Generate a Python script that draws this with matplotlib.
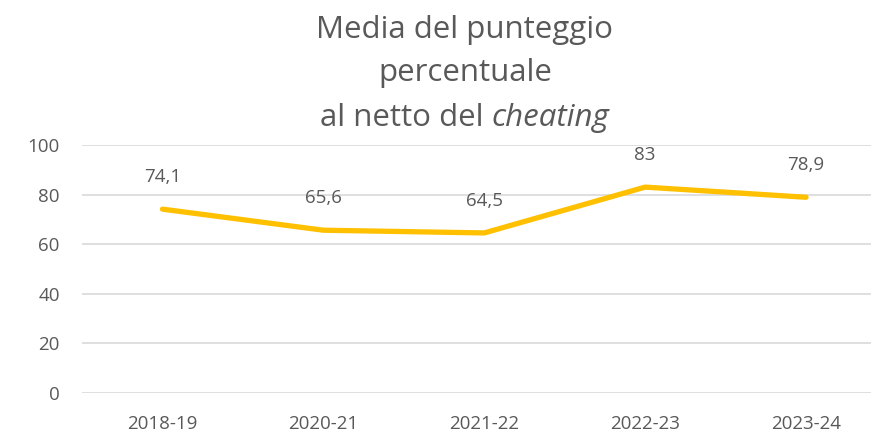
import matplotlib
matplotlib.use("Agg")
import matplotlib.pyplot as plt

categories = ["2018-19", "2020-21", "2021-22", "2022-23", "2023-24"]
values = [74.1, 65.6, 64.5, 83, 78.9]
labels = ["74,1", "65,6", "64,5", "83", "78,9"]
yticks = [0, 20, 40, 60, 80, 100]

W, H = 871, 433
fig = plt.figure(figsize=(W / 100, H / 100), dpi=100)
font = "Open Sans"
txt = "#595959"

ax = fig.add_axes([82 / W, (H - 392.7) / H, (886.5 - 82) / W, (392.7 - 145) / H])
x = list(range(len(categories)))
ax.plot(x, values, color="#FFC000", lw=3.8, solid_capstyle="round", zorder=3)
ax.set_xlim(-0.5, len(categories) - 0.5)
ax.set_ylim(0, 100)
ax.set_yticks(yticks)
ax.set_yticklabels([str(v) for v in yticks], fontfamily=font, fontsize=13.5, color=txt)
ax.set_xticks(x)
ax.set_xticklabels(categories, fontfamily=font, fontsize=13.5, color=txt)
ax.tick_params(axis="both", length=0)
ax.tick_params(axis="y", pad=16)
ax.tick_params(axis="x", pad=16)
ax.grid(axis="y", color="#D9D9D9", lw=1.2)
ax.set_axisbelow(True)
for s in ax.spines.values():
    s.set_visible(False)

for xi, v, lab in zip(x, values, labels):
    ax.annotate(lab, (xi, v), xytext=(0, 23), textcoords="offset points",
                ha="center", va="center", fontfamily=font, fontsize=13.5, color=txt)

cx = 465 / W
ts = 22.5
fig.text(cx, 1 - 30 / H, "Media del punteggio", ha="center", va="center",
         fontfamily=font, fontsize=ts, color=txt)
fig.text(cx, 1 - 73 / H, "percentuale", ha="center", va="center",
         fontfamily=font, fontsize=ts, color=txt)
r = fig.canvas.get_renderer()
t1 = fig.text(0, 1 - 118 / H, "al netto del ", ha="left", va="center",
              fontfamily=font, fontsize=ts, color=txt)
t2 = fig.text(0, 1 - 118 / H, "cheating", ha="left", va="center",
              fontfamily=font, fontsize=ts, color=txt, style="italic")
w1 = t1.get_window_extent(r).width
w2 = t2.get_window_extent(r).width
start = 465 - (w1 + w2) / 2
t1.set_x(start / W)
t2.set_x((start + w1) / W)

fig.savefig("out.png", dpi=100)
